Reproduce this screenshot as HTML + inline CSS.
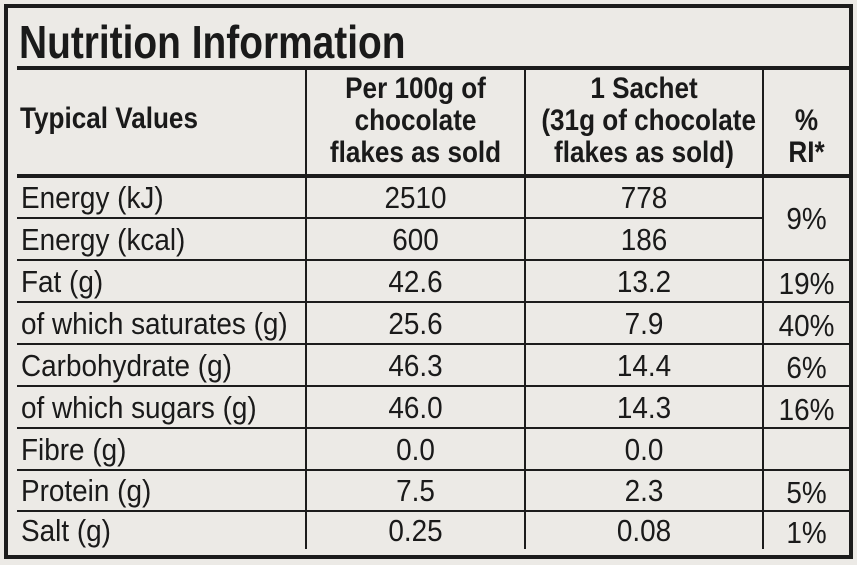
<!DOCTYPE html>
<html><head><style>
body{margin:0;width:857px;height:565px;background:#eceae6;position:relative;overflow:hidden;font-family:"Liberation Sans",sans-serif;color:#1a1a1a}
.b{position:absolute;background:#1c1c1c}
.t{position:absolute;font-size:31px;line-height:42px;white-space:nowrap;transform:scaleX(0.9);transform-origin:left center}
.c{text-align:center;transform-origin:center center}
.h{font-weight:bold;font-size:30px;line-height:32px;position:absolute;text-align:center;white-space:nowrap;transform:scaleX(0.87);transform-origin:center center}
</style></head><body>
<div class="b" style="left:4px;top:4px;width:849px;height:4px"></div>
<div class="b" style="left:4px;top:555px;width:849px;height:4px"></div>
<div class="b" style="left:4px;top:4px;width:4px;height:555px"></div>
<div class="b" style="left:849px;top:4px;width:4px;height:555px"></div>
<div style="position:absolute;left:19px;top:16px;font-size:46px;font-weight:bold;line-height:52px;white-space:nowrap;transform:scaleX(0.845);transform-origin:left center">Nutrition Information</div>
<div class="b" style="left:17px;top:66px;width:832px;height:4px"></div>
<div class="b" style="left:17px;top:174px;width:832px;height:4px"></div>
<div class="b" style="left:17px;top:217px;width:746px;height:2px"></div>
<div class="b" style="left:17px;top:259px;width:832px;height:2px"></div>
<div class="b" style="left:17px;top:301px;width:832px;height:2px"></div>
<div class="b" style="left:17px;top:343px;width:832px;height:2px"></div>
<div class="b" style="left:17px;top:385px;width:832px;height:2px"></div>
<div class="b" style="left:17px;top:427px;width:832px;height:2px"></div>
<div class="b" style="left:17px;top:469px;width:832px;height:2px"></div>
<div class="b" style="left:17px;top:510px;width:832px;height:2px"></div>
<div class="b" style="left:305px;top:68px;width:2px;height:481px"></div>
<div class="b" style="left:524px;top:68px;width:2px;height:481px"></div>
<div class="b" style="left:762px;top:68px;width:2px;height:481px"></div>
<div class="h" style="left:20px;top:103px;text-align:left;transform-origin:left center">Typical Values</div>
<div class="h" style="left:307px;top:73px;width:217px">Per 100g of<br>chocolate<br>flakes as sold</div>
<div class="h" style="left:526px;top:73px;width:236px">1 Sachet<br>(31g of chocolate<br>flakes as sold)</div>
<div class="h" style="left:764px;top:105px;width:85px">%<br>RI*</div>
<div class="t" style="left:21px;top:177px">Energy (kJ)</div>
<div class="t" style="left:21px;top:219px">Energy (kcal)</div>
<div class="t" style="left:21px;top:261px">Fat (g)</div>
<div class="t" style="left:21px;top:303px">of which saturates (g)</div>
<div class="t" style="left:21px;top:345px">Carbohydrate (g)</div>
<div class="t" style="left:21px;top:387px">of which sugars (g)</div>
<div class="t" style="left:21px;top:429px">Fibre (g)</div>
<div class="t" style="left:21px;top:470px">Protein (g)</div>
<div class="t" style="left:21px;top:510px">Salt (g)</div>
<div class="t c" style="left:307px;width:217px;top:177px">2510<br>600<br>42.6<br>25.6<br>46.3<br>46.0<br>0.0<br><span style="position:relative;top:-1px">7.5</span><br><span style="position:relative;top:-3px">0.25</span></div>
<div class="t c" style="left:526px;width:236px;top:177px">778<br>186<br>13.2<br>7.9<br>14.4<br>14.3<br>0.0<br><span style="position:relative;top:-1px">2.3</span><br><span style="position:relative;top:-3px">0.08</span></div>
<div class="t c" style="left:764px;width:85px;top:198px">9%</div>
<div class="t c" style="left:764px;width:85px;top:263px">19%<br>40%<br>6%<br>16%<br><br><span style="position:relative;top:-1px">5%</span><br><span style="position:relative;top:-3px">1%</span></div>
</body></html>
